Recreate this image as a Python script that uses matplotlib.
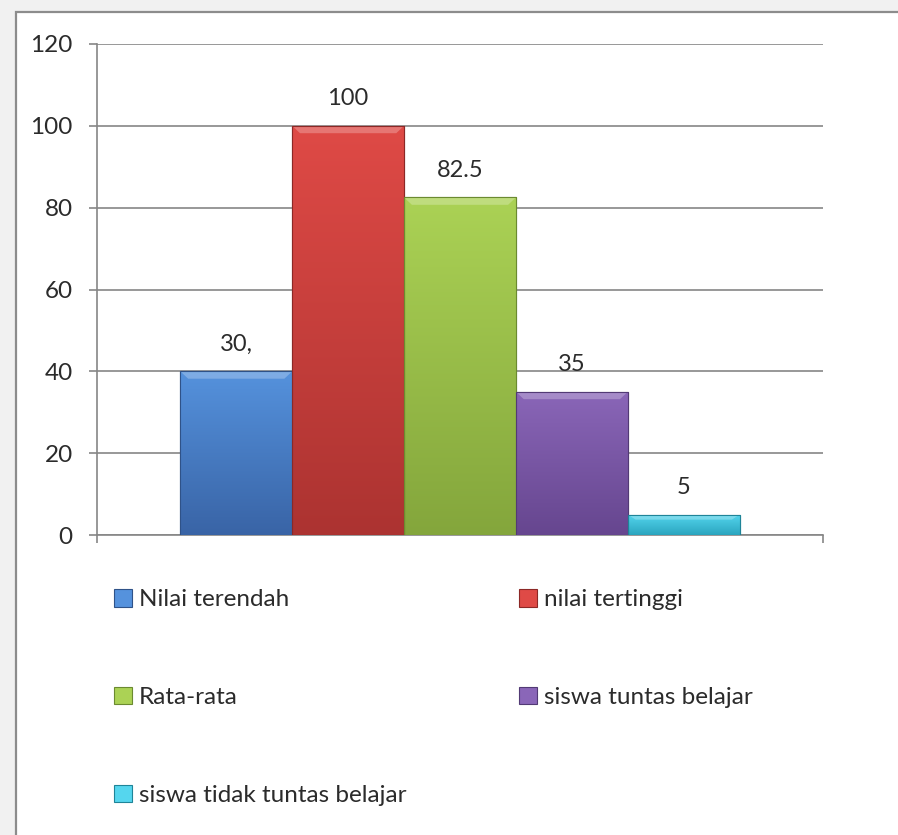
import numpy as np
import matplotlib
matplotlib.use("Agg")
import matplotlib.pyplot as plt
from matplotlib.patches import Rectangle
from matplotlib.colors import LinearSegmentedColormap

# Data
categories = ["Nilai terendah", "nilai tertinggi", "Rata-rata",
              "siswa tuntas belajar", "siswa tidak tuntas belajar"]
values = [40, 100, 82.5, 35, 5]
value_labels = ["30,", "100", "82.5", "35", "5"]
yticks = [0, 20, 40, 60, 80, 100, 120]

# (top, bottom) colours of each bar's gradient
top_colors = ["#5592dd", "#df4a46", "#abd255", "#8a66b8", "#55d6ee"]
bottom_colors = ["#3964a6", "#ac3331", "#84a63c", "#66468f", "#2aa5bf"]
edge_colors = ["#2f5288", "#8c2826", "#6b8a30", "#523a75", "#1f8498"]

FONT = "Lato"
W, H, DPI = 898, 835, 100

fig = plt.figure(figsize=(W / DPI, H / DPI), dpi=DPI)
fig.patch.set_facecolor("#f1f1f1")

# white chart frame with grey border on the left and top
frame = Rectangle((16 / W, -0.01), 1.02, (H - 12) / H + 0.01,
                  transform=fig.transFigure, facecolor="white",
                  edgecolor="#8c8c8c", linewidth=1.6, zorder=-10)
fig.patches.append(frame)

ax = fig.add_axes([97 / W, (H - 535) / H, (823 - 97) / W, (535 - 44) / H])
ax.set_facecolor("none")

x = np.arange(len(values))
bars = ax.bar(x, values, width=1.0, color=top_colors, edgecolor=edge_colors,
              linewidth=0.8, zorder=3)

# vertical gradient and a light bevel along the top of each bar
for b, c_top, c_bot in zip(bars, top_colors, bottom_colors):
    x0, y0 = b.get_x(), b.get_y()
    w, h = b.get_width(), b.get_height()
    cmap = LinearSegmentedColormap.from_list("g", [c_bot, c_top])
    grad = np.linspace(0, 1, 256).reshape(-1, 1)
    im = ax.imshow(grad, cmap=cmap, aspect="auto", origin="lower",
                   extent=(x0, x0 + w, y0, y0 + h), zorder=3.5)
    im.set_clip_path(b)
    bevel = min(1.8, h * 0.25)
    ax.fill([x0, x0 + w, x0 + w * 0.93, x0 + w * 0.07],
            [y0 + h, y0 + h, y0 + h - bevel, y0 + h - bevel],
            color="white", alpha=0.25, lw=0, zorder=3.6)
    ax.add_patch(Rectangle((x0, y0), w, h, fill=False,
                           edgecolor=b.get_edgecolor(), lw=0.8, zorder=3.7))

for b, lab in zip(bars, value_labels):
    ax.annotate(lab, (b.get_x() + b.get_width() / 2, b.get_height()),
                xytext=(0, 27), textcoords="offset pixels",
                ha="center", va="center", fontsize=17, family=FONT,
                color="#2b2b2b", zorder=5)

half = 3.245
ax.set_xlim(2 - half, 2 + half)
ax.set_ylim(0, 120)
ax.set_yticks(yticks)
ax.set_yticklabels([str(t) for t in yticks])
ax.set_xticks([2 - half, 2 + half])
ax.set_xticklabels(["", ""])
ax.yaxis.grid(True, color="#868686", linewidth=1.2, zorder=1)
ax.set_axisbelow(True)
for s in ["top", "right"]:
    ax.spines[s].set_visible(False)
for s in ["left", "bottom"]:
    ax.spines[s].set_color("#868686")
    ax.spines[s].set_linewidth(1.2)
ax.tick_params(axis="y", length=6, width=1.2, color="#868686", pad=11.5,
               labelsize=17.5, labelcolor="#2b2b2b")
ax.tick_params(axis="x", length=6, width=1.2, color="#868686")
for t in ax.get_yticklabels():
    t.set_family(FONT)

# legend, filled row by row
order = [0, 2, 4, 1, 3]
leg = fig.legend([bars[i] for i in order], [categories[i] for i in order],
                 ncol=2, loc="upper left",
                 bbox_to_anchor=(104 / W, (H - 579) / H),
                 frameon=False, prop={"family": FONT, "size": 17.5},
                 handlelength=0.75, handleheight=0.75, handletextpad=0.3,
                 labelspacing=3.15, columnspacing=4.6, borderaxespad=0,
                 labelcolor="#2b2b2b")

fig.savefig("out.png", dpi=DPI, facecolor=fig.get_facecolor())
